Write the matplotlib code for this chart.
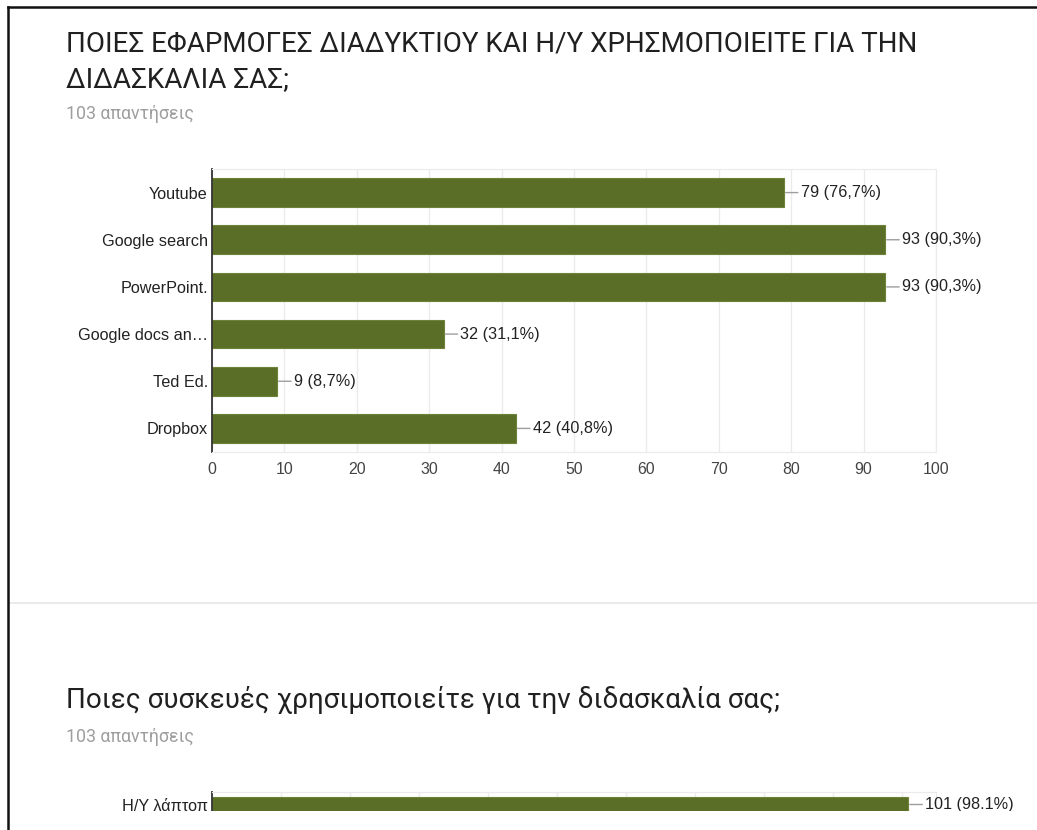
import matplotlib.pyplot as plt
from matplotlib.lines import Line2D
from matplotlib.patches import Rectangle

# first question: web / pc applications
apps = ["Youtube", "Google search", "PowerPoint.", "Google docs an…", "Ted Ed.", "Dropbox"]
app_counts = [79, 93, 93, 32, 9, 42]
app_pcts = ["76,7%", "90,3%", "90,3%", "31,1%", "8,7%", "40,8%"]
app_ticks = [0, 10, 20, 30, 40, 50, 60, 70, 80, 90, 100]

# second question: devices (only first bar visible)
devices = ["Η/Υ λάπτοπ"]
device_counts = [101]
device_pcts = ["98.1%"]
device_grid = [10, 20, 30, 40, 50, 60, 70, 80, 90, 100]

title1 = "ΠΟΙΕΣ ΕΦΑΡΜΟΓΕΣ ΔΙΑΔΥΚΤΙΟΥ ΚΑΙ Η/Υ ΧΡΗΣΜΟΠΟΙΕΙΤΕ ΓΙΑ ΤΗΝ\nΔΙΔΑΣΚΑΛΙΑ ΣΑΣ;"
title2 = "Ποιες συσκευές χρησιμοποιείτε για την διδασκαλία σας;"
answers = "103 απαντήσεις"

W, H = 1037, 830
BAR = "#5a6e27"
chart_font = ["Liberation Sans", "DejaVu Sans"]
title_font = ["Roboto", "DejaVu Sans"]
FS = 11.7


def fx(x):
    return x / W


def fy(y):
    return 1 - y / H


fig = plt.figure(figsize=(W / 100, H / 100), dpi=100)
fig.patch.set_facecolor("white")


def style_axes(ax):
    for s in ["top", "right", "bottom"]:
        ax.spines[s].set_color("#ebebeb")
    ax.spines["left"].set_color("#333333")
    ax.spines["left"].set_linewidth(1.3)
    ax.tick_params(axis="both", length=0)
    ax.set_axisbelow(True)
    ax.grid(axis="x", color="#ebebeb", linewidth=1)


def label_bars(ax, counts, pcts):
    for i, (c, p) in enumerate(zip(counts, pcts)):
        ax.annotate(f"{c} ({p})", xy=(c, i), xytext=(12, 0), textcoords="offset points",
                    ha="left", va="center", fontsize=FS, color="#222222", family=chart_font,
                    arrowprops=dict(arrowstyle="-", color="#9e9e9e", lw=1, shrinkA=0, shrinkB=1))


# chart 1
ax1 = fig.add_axes([fx(212), fy(452), fx(936 - 212), (452 - 169) / H])
ax1.barh(range(len(apps)), app_counts, height=0.61, color=BAR, edgecolor="#6d8138", linewidth=0.8)
ax1.set_xlim(0, 100)
ax1.set_ylim(len(apps) - 0.5, -0.5)
ax1.set_xticks(app_ticks)
ax1.set_yticks(range(len(apps)))
ax1.set_yticklabels(apps, family=chart_font, fontsize=FS, color="#222222")
for t in ax1.get_xticklabels():
    t.set_family(chart_font)
    t.set_fontsize(FS - 0.3)
    t.set_color("#444444")
ax1.tick_params(axis="x", pad=7)
ax1.tick_params(axis="y", pad=3)
style_axes(ax1)
label_bars(ax1, app_counts, app_pcts)

# chart 2 (cut off at the bottom of the screenshot)
ax2 = fig.add_axes([fx(212), fy(811), fx(936 - 212), (811 - 792) / H])
ax2.barh(range(len(devices)), device_counts, height=0.6, color=BAR, edgecolor="#6d8138", linewidth=0.8)
ax2.set_xlim(0, 105)
ax2.set_ylim(0.26, -0.5)
ax2.set_xticks(device_grid)
ax2.set_xticklabels([])
ax2.set_yticks(range(len(devices)))
ax2.set_yticklabels(devices, family=chart_font, fontsize=FS, color="#222222")
ax2.tick_params(axis="y", pad=3)
style_axes(ax2)
ax2.spines["bottom"].set_visible(False)
label_bars(ax2, device_counts, device_pcts)

# texts
fig.text(fx(66), fy(62), title1, fontsize=20, family=title_font, color="#202020",
         va="center", ha="left", linespacing=1.4)
fig.text(fx(66), fy(114), answers, fontsize=12.8, family=title_font, color="#9e9e9e", va="center")
fig.text(fx(66), fy(700), title2, fontsize=20, family=title_font, color="#202020", va="center")
fig.text(fx(66), fy(737), answers, fontsize=12.8, family=title_font, color="#9e9e9e", va="center")

# separator between the two questions
fig.add_artist(Line2D([fx(10), 1], [fy(603), fy(603)], color="#e6e6e6", lw=1.2))

# screenshot cut-off at the bottom
fig.add_artist(Rectangle((0, 0), 1, fy(811), transform=fig.transFigure,
                         facecolor="white", edgecolor="none", zorder=10))

# window frame on top and left
fig.add_artist(Line2D([fx(7.5), 1], [fy(7.5), fy(7.5)], color="#111111", lw=1.8, zorder=11))
fig.add_artist(Line2D([fx(7.5), fx(7.5)], [fy(7.5), 0], color="#111111", lw=1.8, zorder=11))

fig.savefig("out.png", dpi=100, facecolor="white")
